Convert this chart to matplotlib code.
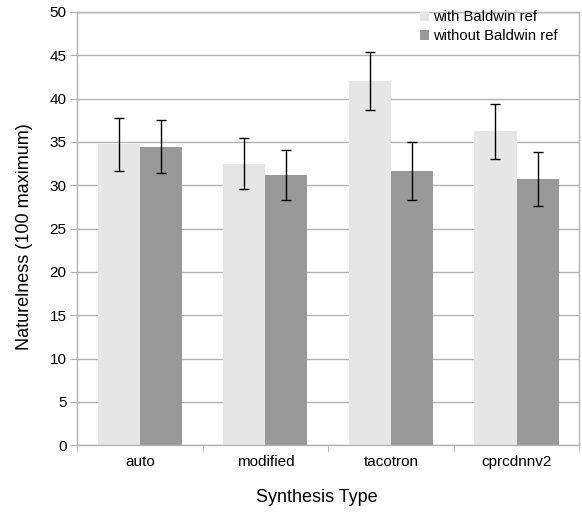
import matplotlib
matplotlib.use("Agg")
import matplotlib.pyplot as plt
import numpy as np

categories = ["auto", "modified", "tacotron", "cprcdnnv2"]
with_ref = [34.7, 32.5, 42.0, 36.2]
with_err = [3.1, 2.95, 3.35, 3.15]
without_ref = [34.45, 31.2, 31.65, 30.75]
without_err = [3.1, 2.9, 3.3, 3.1]
series_names = ["with Baldwin ref", "without Baldwin ref"]
yticks = list(range(0, 51, 5))

plt.rcParams['font.family'] = ['Liberation Sans', 'DejaVu Sans']

fig = plt.figure(figsize=(5.82, 5.12), dpi=100)
ax = fig.add_axes([77/582, 1-445.3/512, (579.3-77)/582, (445.3-11.8)/512])

x = np.arange(len(categories))
w = 0.335
grid_c = '#b3b3b3'
ax.set_axisbelow(True)
ax.yaxis.grid(True, color=grid_c, linewidth=1)
ekw = dict(ecolor='#000000', elinewidth=1, capsize=3.25, capthick=1)
ax.bar(x - w/2, with_ref, w, color='#e6e6e6', yerr=with_err, error_kw=ekw, label=series_names[0])
ax.bar(x + w/2, without_ref, w, color='#999999', yerr=without_err, error_kw=ekw, label=series_names[1])

ax.set_xlim(-0.5, len(categories) - 0.5)
ax.set_ylim(0, 50)
ax.set_yticks(yticks)
ax.set_xticks(x)
ax.set_xticklabels(categories)
ax.set_xticks(np.arange(len(categories) + 1) - 0.5, minor=True)
ax.tick_params(axis='x', which='major', length=0, pad=7, labelsize=11)
ax.tick_params(axis='x', which='minor', length=5, color=grid_c)
ax.tick_params(axis='y', length=5, color=grid_c, labelsize=11, pad=2.4)
for s in ax.spines.values():
    s.set_color(grid_c)
    s.set_linewidth(1)

ax.set_xlabel("Synthesis Type", fontsize=13)
ax.xaxis.set_label_coords((316.4 - 77) / 502.3, -(498 - 445.3) / 433.5)
ax.xaxis.label.set_va('center')
ax.set_ylabel("Naturelness (100 maximum)", fontsize=13)
ax.yaxis.set_label_coords((25 - 77) / 502.3, (445.3 - 236.6) / 433.5)
ax.yaxis.label.set_va('center')

leg = ax.legend(loc='upper left', bbox_to_anchor=((420.2 - 77) / 502.3, (445.3 - 10.5) / 433.5),
                frameon=False, fontsize=10.6, handlelength=0.6, handleheight=0.6,
                handletextpad=0.28, labelspacing=0.33, borderpad=0, borderaxespad=0)

fig.savefig("out.png", dpi=100)
